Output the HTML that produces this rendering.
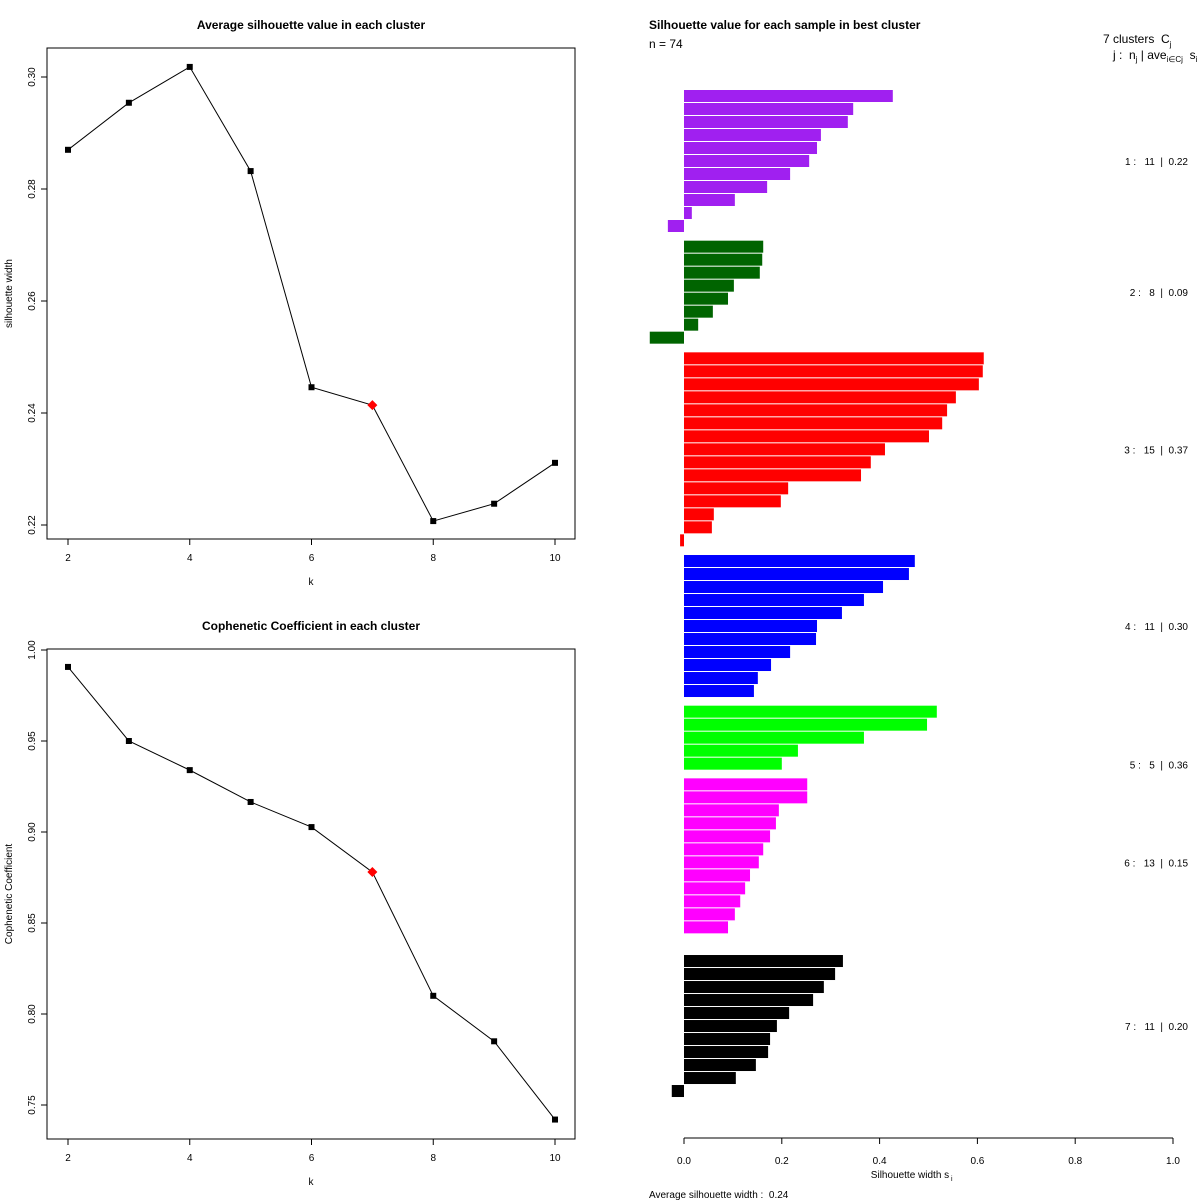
<!DOCTYPE html>
<html><head><meta charset="utf-8"><style>
body{margin:0;background:#fff;}
svg{display:block;font-family:"Liberation Sans",Arial,sans-serif;}
text{white-space:pre;}
</style></head><body>
<svg id="c" width="1200" height="1200" xmlns="http://www.w3.org/2000/svg"></svg>
<script>
const kValues=[2,3,4,5,6,7,8,9,10];
const silAvg=[0.2870,0.2954,0.3018,0.2832,0.2446,0.2414,0.2207,0.2238,0.2311];
const coph=[0.9907,0.950,0.934,0.9165,0.9027,0.878,0.810,0.785,0.742];
const bestK=7;
const silTicks=[0.22,0.24,0.26,0.28,0.30];
const cophTicks=[0.75,0.80,0.85,0.90,0.95,1.00];
const kTicks=[2,4,6,8,10];
const clusterColors=["#a020f0","#006400","#ff0000","#0000ff","#00ff00","#ff00ff","#000000"];
const clusterLabels=["1 :   11  |  0.22","2 :   8  |  0.09","3 :   15  |  0.37","4 :   11  |  0.30","5 :   5  |  0.36","6 :   13  |  0.15","7 :   11  |  0.20"];
const c1=[0.427,0.346,0.335,0.280,0.272,0.256,0.217,0.170,0.104,0.016,-0.033];
const c2=[0.162,0.160,0.155,0.102,0.090,0.059,0.029,-0.070];
const c3=[0.613,0.611,0.603,0.556,0.538,0.528,0.501,0.411,0.382,0.362,0.213,0.198,0.061,0.057,-0.008];
const c4=[0.472,0.460,0.407,0.368,0.323,0.272,0.270,0.217,0.178,0.151,0.143];
const c5=[0.517,0.497,0.368,0.233,0.200];
const c6=[0.252,0.252,0.194,0.188,0.176,0.162,0.153,0.135,0.125,0.115,0.104,0.090,0.0];
const c7=[0.325,0.309,0.286,0.264,0.215,0.190,0.176,0.172,0.147,0.106,-0.025];
const clusters=[c1,c2,c3,c4,c5,c6,c7];
const widthTicks=[0,0.2,0.4,0.6,0.8,1.0];

const svg=document.getElementById('c');
const NS="http://www.w3.org/2000/svg";
function el(tag,attrs,text,parent){const e=document.createElementNS(NS,tag);for(const k in attrs)e.setAttribute(k,attrs[k]);if(text!==undefined)e.textContent=text;(parent||svg).appendChild(e);return e;}

function linePanel(vals,ticks,box,yMin,yMax,yPix,title,ytitle,name){
  const kx=k=>68+(k-2)*(555-68)/8;
  const vy=v=>yPix[0]+(v-yMin)*(yPix[1]-yPix[0])/(yMax-yMin);
  let r=el('rect',{x:box[0],y:box[1],width:box[2]-box[0],height:box[3]-box[1],fill:'none',stroke:'#000'});
  
  let t=el('text',{x:311,y:box[1]-19,'font-size':12,'font-weight':'bold','text-anchor':'middle'},title);
  
  kTicks.forEach(k=>{const x=kx(k);
    let l=el('line',{x1:x,x2:x,y1:box[3],y2:box[3]+6,stroke:'#000'});
    
    let tl=el('text',{x:x,y:box[3]+22,'font-size':10,'text-anchor':'middle'},String(k));
    });
  let xt=el('text',{x:311,y:box[3]+46,'font-size':10,'text-anchor':'middle'},'k');
  
  ticks.forEach(v=>{const y=vy(v);
    let l=el('line',{x1:box[0]-6,x2:box[0],y1:y,y2:y,stroke:'#000'});
    
    let tl=el('text',{x:box[0]-12,y:y,'font-size':10,'text-anchor':'middle',transform:`rotate(-90 ${box[0]-12} ${y})`},v.toFixed(2));
    });
  const my=(box[1]+box[3])/2;
  let yt=el('text',{x:12,y:my,'font-size':10,'text-anchor':'middle',transform:`rotate(-90 12 ${my})`},ytitle);
  
  const pts=vals.map((v,i)=>kx(kValues[i])+','+vy(v)).join(' ');
  let pl=el('polyline',{points:pts,fill:'none',stroke:'#000','stroke-width':1});
  
  vals.forEach((v,i)=>{const x=kx(kValues[i]),y=vy(v);
    if(kValues[i]===bestK){
      let p=el('polygon',{points:`${x},${y-5} ${x+5},${y} ${x},${y+5} ${x-5},${y}`,fill:'#ff0000'});
      
    } else {
      let p=el('rect',{x:x-3,y:y-3,width:6,height:6,fill:'#000'});
      
    }});
}
linePanel(silAvg,silTicks,[47,48,575,539],0.30,0.22,[77,525],'Average silhouette value in each cluster','silhouette width','silhouette-panel');
linePanel(coph,cophTicks,[47,649,575,1139],1.00,0.75,[650,1105],'Cophenetic Coefficient in each cluster','Cophenetic Coefficient','cophenetic-panel');

const sx=v=>684+v*489;
const step=13, gap=7.67;
let y=90;
clusters.forEach((cl,ci)=>{
  const y0=y;
  cl.forEach((v,j)=>{
    const x0=Math.min(sx(0),sx(v)),w=Math.abs(sx(v)-sx(0));
    let b=el('rect',{x:x0,y:y,width:Math.max(w,0),height:12,fill:clusterColors[ci]});
    
    y+=step;});
  let mid=(y0+y-1)/2;
  if(ci===4) mid+=27;
  let lab=el('text',{x:1188,y:mid+4,'font-size':10,'text-anchor':'end'},clusterLabels[ci]);
  
  y+=gap;
});
let ax=el('line',{x1:sx(0),x2:sx(1),y1:1138,y2:1138,stroke:'#000'});

widthTicks.forEach(v=>{
  let l=el('line',{x1:sx(v),x2:sx(v),y1:1138,y2:1144,stroke:'#000'});
  
  let t=el('text',{x:sx(v),y:1164,'font-size':10,'text-anchor':'middle'},v.toFixed(1));
  
});
const txt=[[649,29,'Silhouette value for each sample in best cluster',12,'bold','silhouette-title'],
 [649,48,'n = 74',12,'normal','sample-count'],
 [649,1198,'Average silhouette width :  0.24',10,'normal','average-silhouette']];
txt.forEach(a=>{let t=el('text',{x:a[0],y:a[1],'font-size':a[3],'font-weight':a[4]},a[2]);
  });
// legend header with subscripts
let h1=el('text',{x:1103,y:43,'font-size':12});

el('tspan',{},'7 clusters  C',h1);el('tspan',{dy:4,'font-size':8},'j',h1);
let h2=el('text',{x:1113,y:59,'font-size':12});

el('tspan',{},'j :  n',h2);el('tspan',{dy:3,'font-size':8},'j',h2);el('tspan',{dy:-3},' | ave',h2);
el('tspan',{dy:3,'font-size':8},'i∈Cj',h2);el('tspan',{dy:-3},'  s',h2);el('tspan',{dy:3,'font-size':8},'i',h2);
let xt=el('text',{x:910,y:1178,'font-size':10,'text-anchor':'middle'},'Silhouette width s');

let sub=el('text',{x:951,y:1181,'font-size':7},'i');

</script>
</body></html>
